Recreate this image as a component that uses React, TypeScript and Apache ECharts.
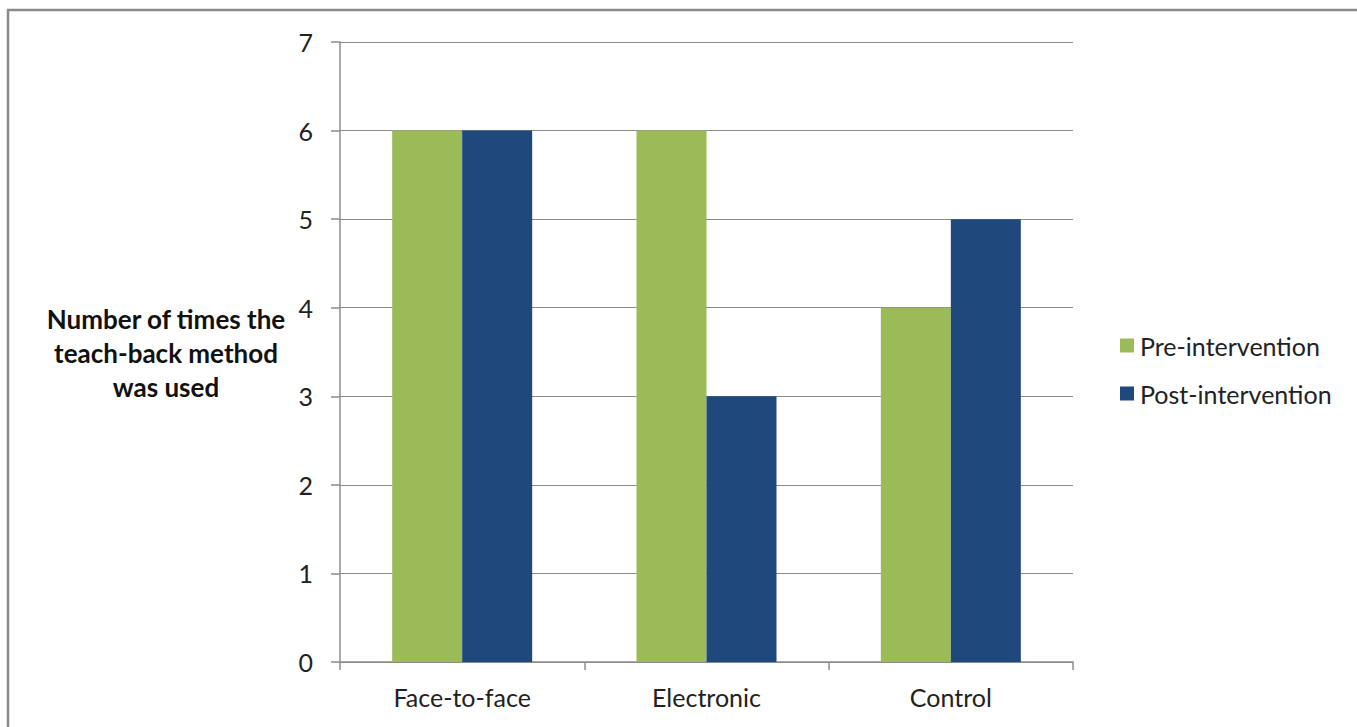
import React, { useEffect, useRef } from "react";
import * as echarts from "echarts";

const categories = ["Face-to-face", "Electronic", "Control"];
const preIntervention = [6, 6, 4];
const postIntervention = [6, 3, 5];
const seriesNames = ["Pre-intervention", "Post-intervention"];
const yAxisTitle = "Number of times the\nteach-back method\nwas used";

const FONT = "Lato, 'Open Sans', 'Liberation Sans', sans-serif";
const AXIS_GREY = "#8c8c8c";

export default function App() {
  const ref = useRef<HTMLDivElement>(null);

  useEffect(() => {
    document.body.style.margin = "0";
    if (!ref.current) return;
    const chart = echarts.init(ref.current, null, { renderer: "svg" });
    chart.setOption({
      animation: false,
      backgroundColor: "#ffffff",
      textStyle: { fontFamily: FONT },
      grid: { left: 340, right: 284, top: 42, bottom: 65 },
      legend: {
        orient: "vertical",
        left: 1115,
        top: 328,
        itemWidth: 14,
        itemHeight: 14,
        itemGap: 23,
        icon: "rect",
        textStyle: { fontSize: 25, color: "#222", fontFamily: FONT, padding: [0, 0, 0, 1] },
        data: seriesNames,
      },
      xAxis: {
        type: "category",
        data: categories,
        axisLine: { lineStyle: { color: AXIS_GREY, width: 1.5 } },
        axisTick: { show: true, length: 8, alignWithLabel: false, lineStyle: { color: AXIS_GREY, width: 1.5 } },
        axisLabel: { fontSize: 25, color: "#222", margin: 22, fontFamily: FONT },
      },
      yAxis: {
        type: "value",
        min: 0,
        max: 7,
        interval: 1,
        axisLine: { show: true, lineStyle: { color: AXIS_GREY, width: 1.5 } },
        axisTick: { show: true, length: 9, lineStyle: { color: AXIS_GREY, width: 1.5 } },
        axisLabel: { fontSize: 25, color: "#222", margin: 27, fontFamily: FONT },
        splitLine: { lineStyle: { color: AXIS_GREY, width: 1.2 } },
      },
      series: [
        {
          name: seriesNames[0],
          type: "bar",
          data: preIntervention,
          barWidth: 70,
          barGap: "0%",
          itemStyle: { color: "#9bbb59" },
        },
        {
          name: seriesNames[1],
          type: "bar",
          data: postIntervention,
          barWidth: 70,
          barGap: "0%",
          itemStyle: { color: "#1f497d" },
        },
      ],
      graphic: [
        {
          type: "rect",
          shape: { x: 8, y: 10, width: 1400, height: 800 },
          style: { fill: "none", stroke: "#8a8a8a", lineWidth: 2.5 },
          silent: true,
        },
        {
          type: "text",
          x: 166,
          y: 353,
          style: {
            text: yAxisTitle,
            fontSize: 26,
            fontWeight: "bold",
            fontFamily: FONT,
            fill: "#111",
            align: "center",
            verticalAlign: "middle",
            lineHeight: 34,
          },
        },
      ],
    });
    return () => chart.dispose();
  }, []);

  return <div ref={ref} style={{ width: 1357, height: 727 }} />;
}
